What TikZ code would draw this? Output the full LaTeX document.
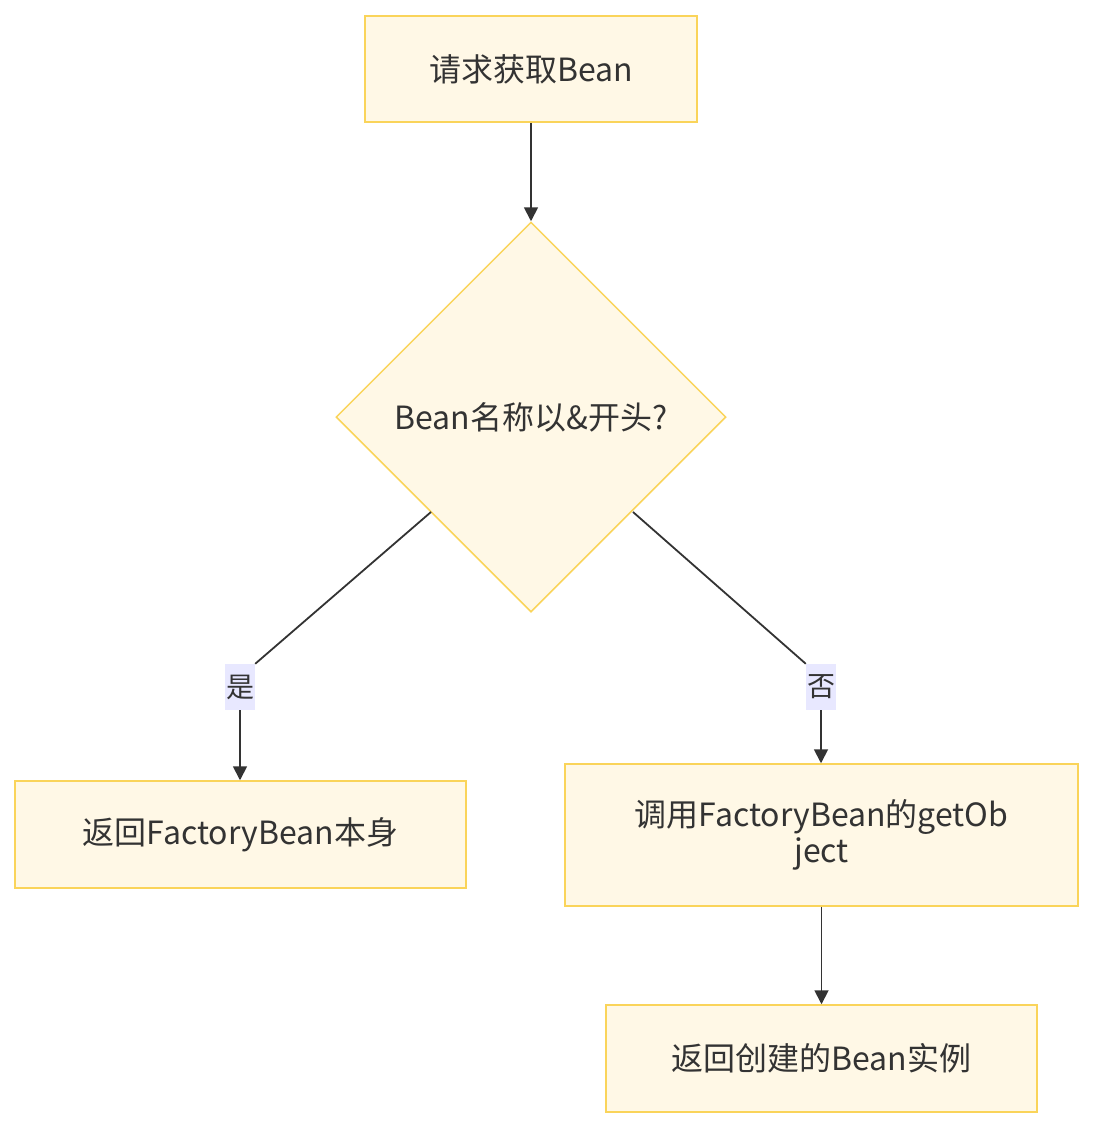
\documentclass[tikz,border=0pt]{standalone}
\usepackage{fontspec}
\setmainfont{Noto Sans CJK SC}
\usetikzlibrary{shapes.geometric,arrows.meta}
\definecolor{boxfill}{HTML}{FFF8E6}
\definecolor{boxline}{HTML}{FAD45A}
\definecolor{lblbg}{HTML}{E8E8FF}
\definecolor{ink}{HTML}{333333}
\tikzset{
  box/.style={draw=boxline, fill=boxfill, line width=1.5pt, text=ink, font=\fontsize{32}{36}\selectfont, inner sep=0pt, align=center},
  lbl/.style={fill=lblbg, text=ink, font=\fontsize{28}{32}\selectfont, inner sep=1pt, minimum width=28pt, minimum height=46pt},
  conn/.style={draw=ink, line width=1.8pt},
  arr/.style={conn, -{Triangle[length=14pt,width=14pt]}}
}
\begin{document}
\begin{tikzpicture}[x=1pt,y=-1pt]
\useasboundingbox (0,0) rectangle (1094,1128);
\node[box, minimum width=332pt, minimum height=106pt] (req) at (531,69) {请求获取Bean};
\node[box, diamond, minimum width=390pt, minimum height=390pt, aspect=1] (dec) at (531,417) {Bean名称以\&开头?};
\node[box, minimum width=451pt, minimum height=107pt] (self) at (240.5,834.5) {返回FactoryBean本身};
\node[box, minimum width=513pt, minimum height=142pt] (call) at (821.5,835) {调用FactoryBean的getOb\\ject};
\node[box, minimum width=431pt, minimum height=107pt] (ret) at (821.5,1058.5) {返回创建的Bean实例};
\node[lbl] (yes) at (240,687) {是};
\node[lbl] (no) at (821,687) {否};
\draw[arr] (req) -- (dec.north);
\draw[conn] (431,512) -- (yes.north east);
\draw[arr] (yes.south) -- (yes.south |- self.north);
\draw[conn] (633,512) -- (no.north west);
\draw[arr] (no.south) -- (no.south |- call.north);
\draw[arr] (call) -- (ret);
\end{tikzpicture}
\end{document}
